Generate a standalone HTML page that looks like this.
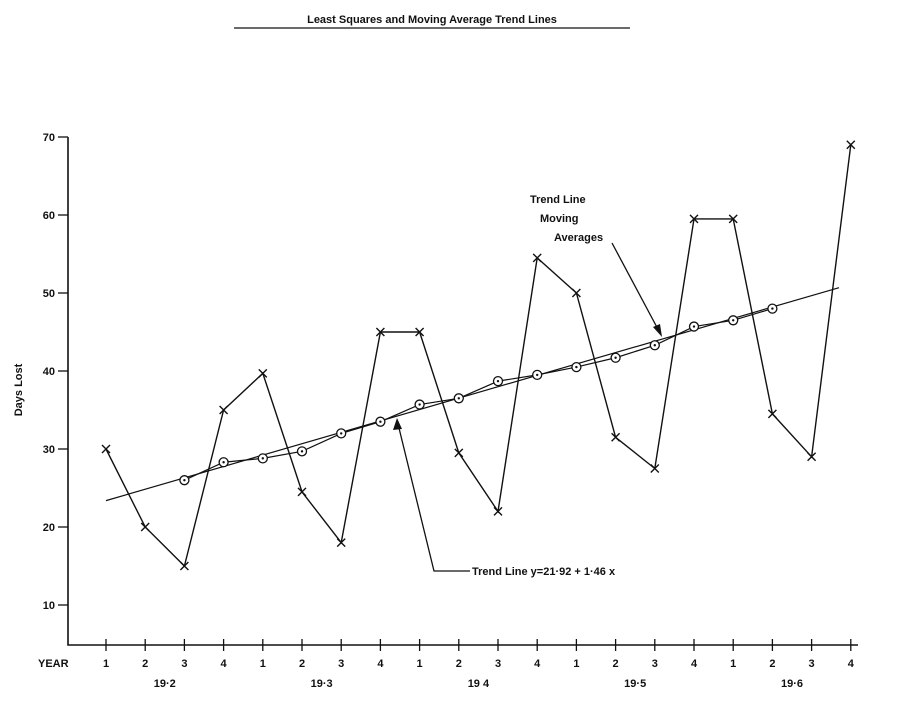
<!DOCTYPE html>
<html><head><meta charset="utf-8"><style>
body{margin:0;background:#fff;}
svg text{font-family:"Liberation Sans",sans-serif;font-weight:bold;fill:#111;}
</style></head><body>
<svg id="chart" width="904" height="699" viewBox="0 0 904 699" xmlns="http://www.w3.org/2000/svg">
<text x="432" y="23" font-size="11" text-anchor="middle">Least Squares and Moving Average Trend Lines</text>
<line x1="234" y1="28" x2="630" y2="28" stroke="#111" stroke-width="1.3"/>
<text transform="translate(22,390) rotate(-90)" font-size="11" text-anchor="middle">Days Lost</text>
<text x="38" y="667" font-size="11">YEAR</text>
<g id="axes"></g>
<g id="marks"></g>
<text font-size="11"><tspan x="530" y="203">Trend Line</tspan><tspan x="540" y="222">Moving</tspan><tspan x="554" y="241">Averages</tspan></text>
<line x1="612" y1="243" x2="660" y2="333" stroke="#111" stroke-width="1.3"/>
<polygon points="662,337 653,327 660,324" fill="#111"/>
<text x="472" y="575" font-size="11">Trend Line y=21·92 + 1·46 x</text>
<polyline points="470,571 434,571 398,424" fill="none" stroke="#111" stroke-width="1.3"/>
<polygon points="397,418 393,430 402,429" fill="#111"/>
</svg>
<script>
const quarters=["1","2","3","4","1","2","3","4","1","2","3","4","1","2","3","4","1","2","3","4"];
const years=["19·2","19·3","19 4","19·5","19·6"];
const yTicks=[10,20,30,40,50,60,70];
const daysLost=[30,20,15,35,39.7,24.5,18,45,45,29.5,22,54.5,50,31.5,27.5,59.5,59.5,34.5,29,69];
const movingAvg=[26,28.3,28.8,29.7,32,33.5,35.7,36.5,38.7,39.5,40.5,41.7,43.3,45.7,46.5,48];
const maStart=2;
const trendA=21.92, trendB=1.46;
const NS="http://www.w3.org/2000/svg";
const xs=i=>106+i*39.2;
const ys=v=>683-v*7.8;
function mk(tag,attrs,parent){const e=document.createElementNS(NS,tag);for(const k in attrs)e.setAttribute(k,attrs[k]);parent.appendChild(e);return e;}
const axes=document.getElementById('axes'), marks=document.getElementById('marks');
let e=mk('polyline',{points:`68,137 68,645 858,645`,fill:'none',stroke:'#111','stroke-width':1.6},axes);


yTicks.forEach(v=>{
 const l=mk('line',{x1:58,x2:68,y1:ys(v),y2:ys(v),stroke:'#111','stroke-width':1.3},axes);
 
 
 const t=mk('text',{x:55,y:ys(v)+4,'font-size':11,'text-anchor':'end'},axes);t.textContent=v;
 
 
});
quarters.forEach((q,i)=>{
 const l=mk('line',{x1:xs(i),x2:xs(i),y1:639,y2:651,stroke:'#111','stroke-width':1.3},axes);
 
 
 const t=mk('text',{x:xs(i),y:667,'font-size':11,'text-anchor':'middle'},axes);t.textContent=q;
 
 
});
years.forEach((y,k)=>{
 const t=mk('text',{x:xs(k*4+1.5),y:687,'font-size':11,'text-anchor':'middle'},axes);t.textContent=y;
 
 
});
// least squares line
e=mk('line',{x1:xs(0),y1:ys(trendA+trendB*1),x2:xs(18.7),y2:ys(trendA+trendB*19.7),stroke:'#111','stroke-width':1.2},marks);


// data line
e=mk('polyline',{points:daysLost.map((v,i)=>xs(i)+','+ys(v)).join(' '),fill:'none',stroke:'#111','stroke-width':1.4},marks);


daysLost.forEach((v,i)=>{
 const x=xs(i),y=ys(v);
 const p=mk('path',{d:`M${x-4} ${y-4}L${x+4} ${y+4}M${x+4} ${y-4}L${x-4} ${y+4}`,stroke:'#111','stroke-width':1.4},marks);
 
 
});
e=mk('polyline',{points:movingAvg.map((v,i)=>xs(i+maStart)+','+ys(v)).join(' '),fill:'none',stroke:'#111','stroke-width':1.2},marks);


movingAvg.forEach((v,i)=>{
 const c=mk('circle',{cx:xs(i+maStart),cy:ys(v),r:4.5,fill:'#fff',stroke:'#111','stroke-width':1.3},marks);
 
 
 const d=mk('circle',{cx:xs(i+maStart),cy:ys(v),r:1.2,fill:'#111'},marks);
 
 
});
</script>
</body></html>
